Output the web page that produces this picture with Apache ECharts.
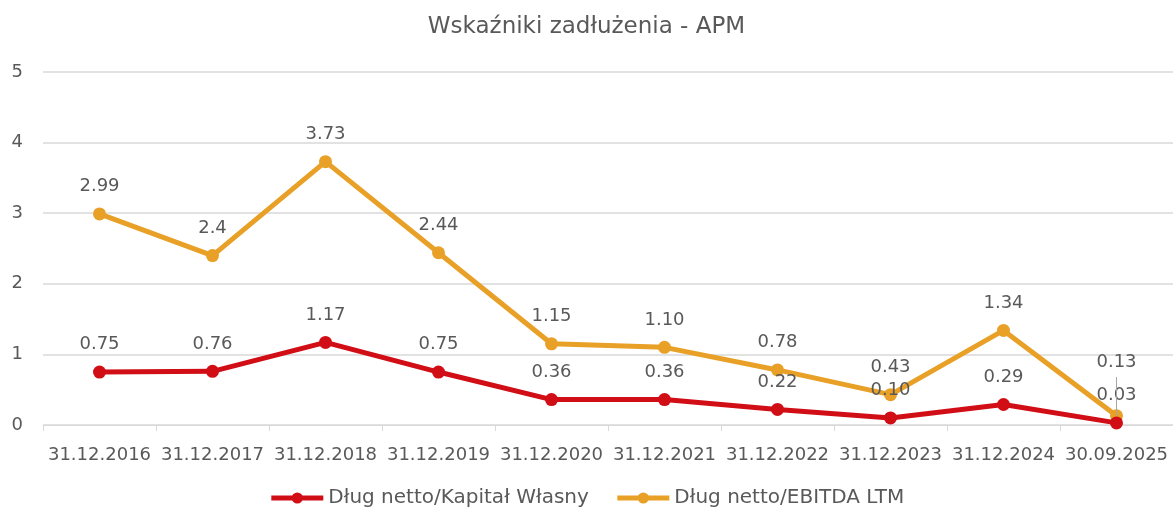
<!DOCTYPE html>
<html>
<head>
<meta charset="utf-8">
<script src="https://cdn.jsdelivr.net/npm/echarts@6/dist/echarts.min.js"></script>
<style>
  html, body { margin: 0; padding: 0; background: #fff; }
  #chart { width: 1173px; height: 513px; }
</style>
</head>
<body>
<div id="chart"></div>
<script>
// dane
const categories = ['31.12.2016', '31.12.2017', '31.12.2018', '31.12.2019', '31.12.2020',
  '31.12.2021', '31.12.2022', '31.12.2023', '31.12.2024', '30.09.2025'];
const kapitalValues = [0.75, 0.76, 1.17, 0.75, 0.36, 0.36, 0.22, 0.10, 0.29, 0.03];
const kapitalLabels = ['0.75', '0.76', '1.17', '0.75', '0.36', '0.36', '0.22', '0.10', '0.29', '0.03'];
const ebitdaValues = [2.99, 2.4, 3.73, 2.44, 1.15, 1.10, 0.78, 0.43, 1.34, 0.13];
const ebitdaLabels = ['2.99', '2.4', '3.73', '2.44', '1.15', '1.10', '0.78', '0.43', '1.34', '0.13'];
const yTicks = [0, 1, 2, 3, 4, 5];

const font = 'DejaVu Sans';
const textColor = '#595959';
const lastIdx = categories.length - 1;

let chart = echarts.init(document.getElementById('chart'));

function buildData(values, labels, lastDistance) {
  return values.map((v, i) => {
    let item = { value: v, label: { formatter: labels[i] } };
    if (lastDistance && i === lastIdx) {
      item.label.distance = lastDistance;
    }
    return item;
  });
}

let option = {
  animation: false,
  title: {
    text: 'Wskaźniki zadłużenia - APM',
    left: 'center',
    top: 11,
    textStyle: { color: textColor, fontFamily: font, fontWeight: 'normal', fontSize: 23 }
  },
  grid: { left: 43, right: 0, top: 72, bottom: 88 },
  legend: {
    bottom: 0,
    left: 'center',
    itemGap: 26,
    itemWidth: 52,
    itemHeight: 14,
    textStyle: { color: textColor, fontFamily: font, fontSize: 20 },
    data: [
      { name: 'Dług netto/Kapitał Własny', lineStyle: { width: 5 } },
      { name: 'Dług netto/EBITDA LTM', lineStyle: { width: 5 } }
    ]
  },
  xAxis: {
    type: 'category',
    data: categories,
    boundaryGap: true,
    axisLine: { lineStyle: { color: '#d9d9d9' } },
    axisTick: { show: true, length: 6, lineStyle: { color: '#d9d9d9' } },
    axisLabel: { color: textColor, fontFamily: font, fontSize: 18, margin: 21, interval: 0 }
  },
  yAxis: {
    type: 'value',
    min: yTicks[0],
    max: yTicks[yTicks.length - 1],
    interval: 1,
    axisLine: { show: false },
    axisTick: { show: false },
    splitLine: { lineStyle: { color: '#d9d9d9', width: 1.5 } },
    axisLabel: { color: textColor, fontFamily: font, fontSize: 18, margin: 20 }
  },
  series: [
    {
      name: 'Dług netto/Kapitał Własny',
      type: 'line',
      data: buildData(kapitalValues, kapitalLabels),
      color: '#d10e16',
      lineStyle: { width: 5 },
      symbol: 'circle',
      symbolSize: 13,
      label: { show: true, position: 'top', distance: 12, color: textColor, fontFamily: font, fontSize: 18 },
      z: 3
    },
    {
      name: 'Dług netto/EBITDA LTM',
      type: 'line',
      data: buildData(ebitdaValues, ebitdaLabels, 38),
      color: '#e8a027',
      lineStyle: { width: 5 },
      symbol: 'circle',
      symbolSize: 13,
      label: { show: true, position: 'top', distance: 12, color: textColor, fontFamily: font, fontSize: 18 },
      markLine: {
        silent: true,
        symbol: 'none',
        label: { show: false },
        lineStyle: { color: '#a6a6a6', width: 1, type: 'solid' },
        data: [[
          { coord: [lastIdx, ebitdaValues[lastIdx]] },
          { coord: [lastIdx, ebitdaValues[lastIdx] + 0.55] }
        ]]
      },
      z: 2
    }
  ]
};

chart.setOption(option);
</script>
</body>
</html>
